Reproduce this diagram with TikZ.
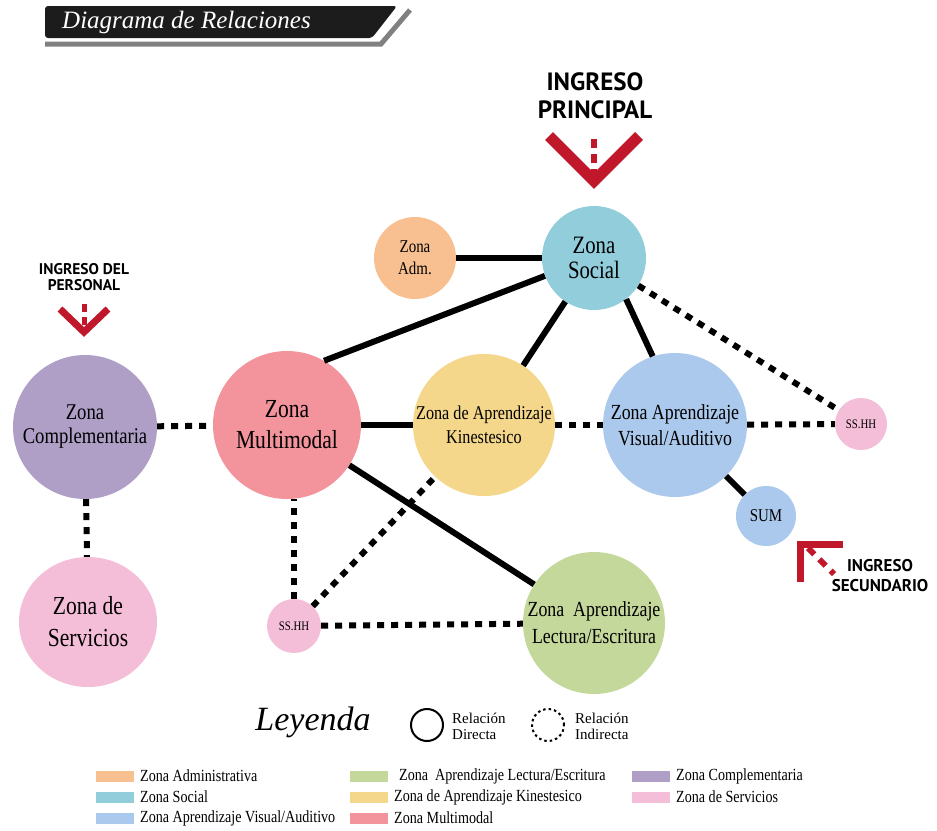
\documentclass[tikz,border=0pt]{standalone}
\usepackage{fontspec}
\setmainfont{Liberation Serif}
\newfontfamily\zonefont[FakeStretch=0.83]{Liberation Serif}
\newfontfamily\ingfont{PT Sans}
\usetikzlibrary{shapes.geometric}
\definecolor{zoneAdm}{HTML}{F8C091}
\definecolor{zoneSocial}{HTML}{92CDDB}
\definecolor{zoneComp}{HTML}{AF9FC7}
\definecolor{zoneMulti}{HTML}{F3939C}
\definecolor{zoneKin}{HTML}{F4D78B}
\definecolor{zoneVisual}{HTML}{ABC9EC}
\definecolor{zoneServ}{HTML}{F4BDD8}
\definecolor{zoneLect}{HTML}{C5D89B}
\definecolor{ingresoRed}{HTML}{C1172B}
\definecolor{titleBlack}{HTML}{1C1C1C}
\definecolor{titleGray}{HTML}{808080}

\begin{document}
\begin{tikzpicture}[x=1pt, y=-1pt,
    zone/.style={circle, inner sep=0pt, align=center},
    direct/.style={line width=6pt, black},
    indirect/.style={line width=6pt, black, dash pattern=on 7pt off 7pt},
    entry/.style={line width=10pt, ingresoRed, line join=miter},
    entrydash/.style={line width=6pt, ingresoRed, dash pattern=on 9pt off 6pt},
    entrytext/.style={align=center, inner sep=0pt},
    swatch/.style={minimum width=38pt, minimum height=11pt, inner sep=0pt},
    legtext/.style={anchor=west, inner sep=0pt, font=\zonefont\fontsize{17}{19}\selectfont},
]
\useasboundingbox (0,0) rectangle (937,830);

% title banner
\fill[titleBlack, rounded corners=3pt] (45,38) -- (45,6) -- (397,6) -- (372,38) -- cycle;
\draw[titleGray, line width=5pt] (45,44) -- (381,44) -- (410,10);
\node[anchor=west, inner sep=0pt, text=white, font=\itshape\fontsize{25}{28}\selectfont] (title) at (62,22) {Diagrama de Relaciones};

% zones
\node[zone, fill=zoneAdm, minimum size=82pt, font=\zonefont\fontsize{18}{22}\selectfont] (adm) at (415,258) {Zona\\Adm.};
\node[zone, fill=zoneSocial, minimum size=104pt, font=\zonefont\fontsize{25}{25}\selectfont] (social) at (594,258) {Zona\\Social};
\node[zone, fill=zoneComp, minimum size=144pt, font=\zonefont\fontsize{22.5}{24}\selectfont] (comp) at (85,427) {Zona\\Complementaria};
\node[zone, fill=zoneMulti, minimum size=148pt, font=\zonefont\fontsize{26}{31}\selectfont] (multi) at (287,425) {Zona\\Multimodal};
\node[zone, fill=zoneKin, minimum size=142pt, font=\zonefont\fontsize{19.5}{24}\selectfont] (kin) at (484,425) {Zona de Aprendizaje\\Kinestesico};
\node[zone, fill=zoneVisual, minimum size=144pt, font=\zonefont\fontsize{21.5}{26}\selectfont] (visual) at (675,425) {Zona Aprendizaje\\Visual/Auditivo};
\node[zone, fill=zoneServ, minimum size=52pt, font=\zonefont\fontsize{13}{14}\selectfont] (sshhA) at (861,424) {SS.HH};
\node[zone, fill=zoneVisual, minimum size=60pt, font=\zonefont\fontsize{18}{20}\selectfont] (sum) at (766,516) {SUM};
\node[ellipse, inner sep=0pt, align=center, fill=zoneServ, minimum width=138pt, minimum height=130pt, font=\zonefont\fontsize{26}{32}\selectfont] (serv) at (88,622) {Zona de\\Servicios};
\node[zone, fill=zoneServ, minimum size=54pt, font=\zonefont\fontsize{13}{14}\selectfont] (sshhB) at (294,626) {SS.HH};
\node[zone, fill=zoneLect, minimum size=142pt, font=\zonefont\fontsize{21.5}{27}\selectfont] (lect) at (594,623) {Zona\ \ Aprendizaje\\Lectura/Escritura};

% relaciones directas
\draw[direct] (adm) -- (social);
\draw[direct] (multi.60) -- (social.200);
\draw[direct] (kin) -- (social);
\draw[direct] (social.-52) -- (visual.108);
\draw[direct] (multi) -- (kin);
\draw[direct] (multi) -- (lect);
\draw[direct] (visual) -- (sum);

% relaciones indirectas
\draw[indirect] (comp) -- (multi);
\draw[indirect] (comp) -- (serv);
\draw[indirect] (social) -- (sshhA);
\draw[indirect] (kin) -- (visual);
\draw[indirect] (visual) -- (sshhA);
\draw[indirect] (sshhB) -- (sshhB |- multi.south);
\draw[indirect] (sshhB) -- (kin);
\draw[indirect] (sshhB) -- (lect);

% ingresos
\node[entrytext, font=\ingfont\bfseries\fontsize{25}{28}\selectfont] (ingPrincipal) at (595,96) {INGRESO\\PRINCIPAL};
\coordinate (prinL) at (549,136);
\coordinate (prinTip) at (594,181);
\coordinate (prinR) at (639,136);
\draw[entry, line width=11pt] (prinL) -- (prinTip) -- (prinR);
\draw[entrydash] (594,139) -- (prinTip);

\node[entrytext, font=\ingfont\bfseries\fontsize{15.5}{16}\selectfont] (ingPersonal) at (84,277) {INGRESO DEL\\PERSONAL};
\coordinate (persL) at (60,309);
\coordinate (persTip) at (84,332);
\coordinate (persR) at (108,309);
\draw[entry, line width=7pt] (persL) -- (persTip) -- (persR);
\draw[entrydash, line width=5pt, dash pattern=on 8pt off 5pt] (84,304) -- (persTip);

\node[entrytext, font=\ingfont\bfseries\fontsize{17}{20}\selectfont] (ingSecundario) at (880,576) {INGRESO\\SECUNDARIO};
\coordinate (secB) at (800,582);
\coordinate (secCorner) at (800,544);
\coordinate (secR) at (843,544);
\draw[entry, line width=7pt] (secB) -- (secCorner) -- (secR);
\draw[entrydash, line width=6pt, dash pattern=on 9pt off 7pt] (808,548) -- (834,574);

% leyenda
\node[inner sep=0pt, font=\itshape\fontsize{34}{36}\selectfont] (leyenda) at (313,722) {Leyenda};
\node[circle, draw, line width=2pt, minimum size=32pt] (legDirect) at (427,725) {};
\node[anchor=west, inner sep=0pt, align=left, font=\fontsize{15}{16}\selectfont] (legDirectTxt) at (452,726) {Relación\\Directa};
\node[circle, draw, line width=2pt, dash pattern=on 2.5pt off 3pt, minimum size=32pt] (legIndirect) at (548,725) {};
\node[anchor=west, inner sep=0pt, align=left, font=\fontsize{15}{16}\selectfont] (legIndirectTxt) at (575,726) {Relación\\Indirecta};

\node[swatch, fill=zoneAdm] (swAdm) at (115,776) {};
\node[legtext] (txAdm) at (140,776) {Zona Administrativa};
\node[swatch, fill=zoneSocial] (swSocial) at (115,797) {};
\node[legtext] (txSocial) at (140,797) {Zona Social};
\node[swatch, fill=zoneVisual] (swVisual) at (115,818) {};
\node[legtext] (txVisual) at (140,818) {Zona Aprendizaje Visual/Auditivo};
\node[swatch, fill=zoneLect] (swLect) at (369,776) {};
\node[legtext] (txLect) at (399,776) {Zona\ \ Aprendizaje Lectura/Escritura};
\node[swatch, fill=zoneKin] (swKin) at (369,797) {};
\node[legtext] (txKin) at (394,797) {Zona de Aprendizaje Kinestesico};
\node[swatch, fill=zoneMulti] (swMulti) at (369,818) {};
\node[legtext] (txMulti) at (394,818) {Zona Multimodal};
\node[swatch, fill=zoneComp] (swComp) at (651,776) {};
\node[legtext] (txComp) at (676,776) {Zona Complementaria};
\node[swatch, fill=zoneServ] (swServ) at (651,797) {};
\node[legtext] (txServ) at (676,797) {Zona de Servicios};
\end{tikzpicture}
\end{document}
